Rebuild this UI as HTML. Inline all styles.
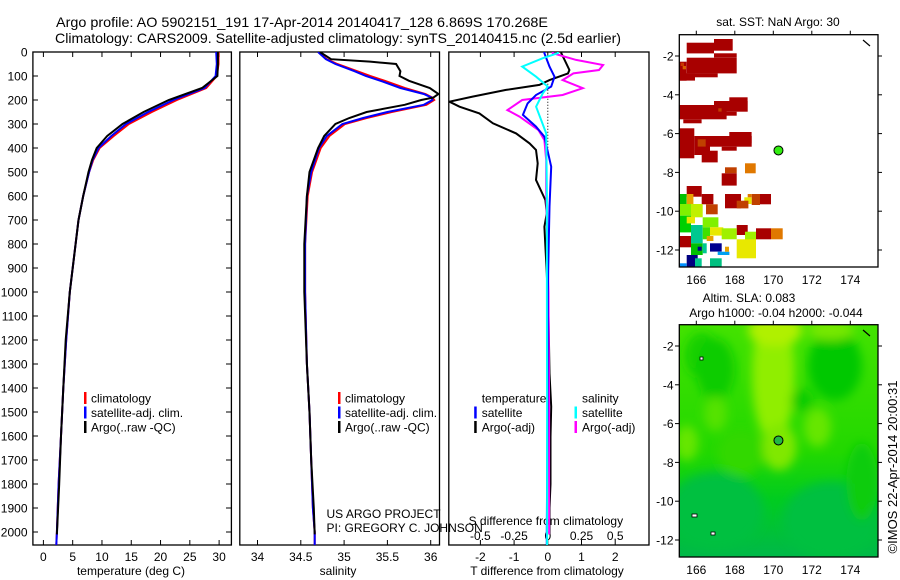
<!DOCTYPE html>
<html><head><meta charset="utf-8"><style>
html,body{margin:0;padding:0;background:#fff;}
svg{display:block;font-family:"Liberation Sans",sans-serif;}
text{fill:#000;}
</style></head><body>
<svg id="fig" width="900" height="580" viewBox="0 0 900 580" xmlns="http://www.w3.org/2000/svg">
<defs>
<clipPath id="c1"><rect x="32.9" y="52" width="198.5" height="493"/></clipPath>
<clipPath id="c2"><rect x="239.8" y="52" width="199.7" height="493"/></clipPath>
<clipPath id="c3"><rect x="448.8" y="52" width="200.2" height="493"/></clipPath>
<clipPath id="cm2"><rect x="679.3" y="324.7" width="198.7" height="232.3"/></clipPath>
<filter id="blur" x="-20%" y="-20%" width="140%" height="140%"><feGaussianBlur stdDeviation="5"/></filter>
</defs>
<text x="56" y="27" font-size="14" textLength="492" lengthAdjust="spacingAndGlyphs">Argo profile: AO 5902151_191 17-Apr-2014 20140417_128 6.869S 170.268E</text>
<text x="55" y="43" font-size="14" textLength="566" lengthAdjust="spacingAndGlyphs">Climatology: CARS2009. Satellite-adjusted climatology: synTS_20140415.nc (2.5d earlier)</text>
<g id="g1"></g>
<g id="g2"></g>
<g id="g3"></g>
<g id="gm1"></g>
<g id="gm2"></g>
</svg>
<script>
// ---- data ----
const depthT = [0,50,100,150,200,250,300,350,400,450,500,600,700,800,1000,1200,1400,1600,1800,2000,2054];
const tempClim = [29.9,29.9,29.6,27.8,22.8,18.5,14.6,12.0,9.6,8.5,7.8,6.8,6.0,5.5,4.5,3.9,3.4,3.0,2.6,2.3,2.2];
const tempSat  = [29.5,29.6,29.4,27.5,22.2,17.9,14.1,11.6,9.4,8.4,7.8,6.8,6.0,5.5,4.5,3.9,3.4,3.0,2.6,2.3,2.2];
const depthArgo = [0,50,100,150,200,250,300,350,400,450,500,600,700,800,1000,1200,1400,1600,1800,2010];
const tempArgo = [29.8,29.8,29.7,27.1,21.4,17.1,13.5,10.9,9.1,8.3,7.7,6.8,6.0,5.5,4.5,3.8,3.4,3.0,2.7,2.3];
const depthS = [0,30,50,80,100,120,150,175,190,200,220,250,275,300,350,400,500,600,800,1000,1300,1500,1700,1900,2000,2054];
const salClim = [34.70,34.80,34.92,35.15,35.30,35.47,35.70,35.94,36.02,36.04,35.95,35.55,35.26,35.01,34.83,34.73,34.63,34.58,34.55,34.55,34.57,34.60,34.62,34.64,34.66,34.66];
const salSat  = [34.70,34.79,34.90,35.12,35.25,35.42,35.65,35.92,36.01,36.02,35.92,35.50,35.22,34.98,34.80,34.71,34.62,34.57,34.55,34.55,34.57,34.60,34.62,34.64,34.66,34.66];
const depthSA = [0,30,40,50,80,100,120,150,175,190,200,220,250,275,300,350,400,500,600,800,1000,1300,1500,1700,1900,2010];
const salArgo = [34.72,34.85,35.30,35.60,35.65,35.64,35.75,35.99,36.09,36.03,35.89,35.70,35.26,35.06,34.90,34.77,34.70,34.60,34.57,34.54,34.54,34.57,34.60,34.62,34.65,34.66];
const depthDT = [0,5,33,75,89,117,137,158,186,207,228,256,297,339,381,408,464,533,617,672,728,811,922,1100,1339,1478,1603,1800,1900,2010];
const dTArgo  = [0.4,0.4,0.5,0.64,0.6,0.05,-0.25,-1.24,-2.23,-2.92,-2.62,-2.03,-1.63,-0.94,-0.54,-0.35,-0.3,-0.35,-0.07,-0.03,-0.1,-0.07,-0.03,0.02,0.05,0.1,0.08,0.08,0.05,0.05];
const depthDTS = [0,5,61,103,144,179,214,262,311,353,478,644,783,1000,1500,2000,2054];
const dTSat   = [-0.1,-0.1,0.05,0.2,0.1,-0.35,-0.6,-0.74,-0.35,-0.1,0.1,0.05,0.03,0,-0.01,-0.03,-0.03];
const depthDS = [0,5,33,54,75,89,117,151,179,200,242,269,325,367,450,575,1000,1500,2010];
const dSArgo  = [0.037,0.037,0.21,0.41,0.38,0.19,0.11,0.26,0.11,-0.19,-0.30,-0.21,-0.07,-0.025,-0.012,-0.012,0.005,0.01,0.01];
const depthDSS = [0,5,26,61,103,144,172,228,283,339,600,1000,1500,2054];
const dSSat   = [0.074,0.074,-0.037,-0.19,-0.087,0,-0.037,-0.087,-0.05,-0.012,-0.007,-0.007,-0.005,-0.005];
const depthTicks = [0,100,200,300,400,500,600,700,800,900,1000,1100,1200,1300,1400,1500,1600,1700,1800,1900,2000];
const tempTicks = [0,5,10,15,20,25,30];
const salTicks = [34,34.5,35,35.5,36];
const dTTicks = [-2,-1,0,1,2];
const dSTicks = [-0.5,-0.25,0,0.25,0.5];
const lonTicks = [166,168,170,172,174];
const latTicks = [-2,-4,-6,-8,-10,-12];
const argoLon = 170.268, argoLat = -6.869;

// ---- scales ----
const NS='http://www.w3.org/2000/svg';
const yD = d => 52 + d*0.24;
const xT = t => 43.4 + t*5.857;
const xS = s => 257.5 + (s-34)*86.6;
const xDT = v => 547.8 + v*33.7;
const xDS = v => 547.8 + v*134.8;
const mX = lon => 696.3 + (lon-166)*19.25;
const mY1 = lat => 56 + (-2-lat)*19.4;
const mY2 = lat => 346 + (-2-lat)*19.4;

function el(tag, attrs, parent){const e=document.createElementNS(NS,tag);for(const k in attrs)e.setAttribute(k,attrs[k]);parent.appendChild(e);return e;}
function txt(parent,x,y,s,size,anchor){const t=el('text',{x:x,y:y,'font-size':size||12,'text-anchor':anchor||'start'},parent);t.textContent=s;return t;}
function line(parent,xs,ys,xf,color,clip){
  const pts=xs.map((v,i)=>xf(v).toFixed(1)+','+yD(ys[i]).toFixed(1)).join(' ');
  return el('polyline',{points:pts,fill:'none',stroke:color,'stroke-width':2,'clip-path':'url(#'+clip+')'},parent);
}
function box(parent,x,y,w,h){return el('rect',{x:x,y:y,width:w,height:h,fill:'none',stroke:'#000','stroke-width':1.3},parent);}
function legendBar(parent,x,y,color){return el('rect',{x:x,y:y-6,width:2.5,height:12,fill:color},parent);}

// ---- panel 1 ----
const g1=document.getElementById('g1');
let fr=box(g1,32.9,52,198.5,493);


depthTicks.forEach(d=>{
  el('line',{x1:32.9,x2:38,y1:yD(d),y2:yD(d),stroke:'#000'},g1);
  el('line',{x1:226,x2:231.4,y1:yD(d),y2:yD(d),stroke:'#000'},g1);
  const t=txt(g1,27.5,yD(d)+4.5,String(d),12,'end');
  
  
});
tempTicks.forEach(v=>{
  el('line',{x1:xT(v),x2:xT(v),y1:545,y2:540,stroke:'#000'},g1);
  el('line',{x1:xT(v),x2:xT(v),y1:52,y2:57,stroke:'#000'},g1);
  const t=txt(g1,xT(v),561,String(v),12,'middle');
  
  
});
let at=txt(g1,131,575,'temperature (deg C)',12,'middle');


let l;
l=line(g1,tempClim,depthT,xT,'#f00','c1');


l=line(g1,tempSat,depthT,xT,'#00f','c1');


l=line(g1,tempArgo,depthArgo,xT,'#000','c1');


function legend3(g,bx,tx,prefix){
  const items=[['climatology','#f00'],['satellite-adj. clim.','#00f'],['Argo(..raw -QC)','#000']];
  items.forEach((it,i)=>{
    const y=398+i*14.5;
    const b=legendBar(g,bx,y,it[1]);
    
    
    const t=txt(g,tx,y+4.5,it[0],12);
    
    
  });
}
legend3(g1,84,91,'temperature');

// ---- panel 2 ----
const g2=document.getElementById('g2');
fr=box(g2,239.8,52,199.7,493);


salTicks.forEach(v=>{
  el('line',{x1:xS(v),x2:xS(v),y1:545,y2:540,stroke:'#000'},g2);
  el('line',{x1:xS(v),x2:xS(v),y1:52,y2:57,stroke:'#000'},g2);
  const t=txt(g2,xS(v),561,String(v),12,'middle');
  
  
});
at=txt(g2,338,575,'salinity',12,'middle');


l=line(g2,salClim,depthS,xS,'#f00','c2');


l=line(g2,salSat,depthS,xS,'#00f','c2');


l=line(g2,salArgo,depthSA,xS,'#000','c2');


legend3(g2,338,345,'salinity');
let c=txt(g2,326.5,518,'US ARGO PROJECT',12);


c=txt(g2,326.5,532,'PI: GREGORY C. JOHNSON',12);



// ---- panel 3 ----
const g3=document.getElementById('g3');
fr=box(g3,448.8,52,200.2,493);


el('line',{x1:xDT(0),x2:xDT(0),y1:yD(120),y2:yD(400),stroke:'#000','stroke-dasharray':'1,2'},g3);
dTTicks.forEach(v=>{
  el('line',{x1:xDT(v),x2:xDT(v),y1:545,y2:540,stroke:'#000'},g3);
  el('line',{x1:xDT(v),x2:xDT(v),y1:52,y2:57,stroke:'#000'},g3);
  const t=txt(g3,xDT(v),561,String(v),12,'middle');
  
  
});
dSTicks.forEach(v=>{
  const t=txt(g3,xDS(v),540,String(v),12,'middle');
  
  
});
at=txt(g3,468.6,525,'S difference from climatology',12);


at=txt(g3,547,575,'T difference from climatology',12,'middle');


l=line(g3,dTArgo,depthDT,xDT,'#000','c3');


l=line(g3,dSArgo,depthDS,xDS,'#f0f','c3');


l=line(g3,dTSat,depthDTS,xDT,'#00f','c3');


l=line(g3,dSSat,depthDSS,xDS,'#0ff','c3');


[[481.7,398,'temperature',null],[481.7,412.5,'satellite','#00f'],[481.7,427,'Argo(-adj)','#000'],
 [582,398,'salinity',null],[582,412.5,'satellite','#0ff'],[582,427,'Argo(-adj)','#f0f']].forEach(it=>{
  if(it[3]){const b=legendBar(g3,it[0]-7.5,it[1],it[3]);
    
    }
  const t=txt(g3,it[0],it[1]+4.5,it[2],12);
  
  
});

// ---- map axes helper ----
function mapAxes(g,top,yf,bottomLabelY){
  lonTicks.forEach(v=>{
    el('line',{x1:mX(v),x2:mX(v),y1:top-4,y2:top,stroke:'#000'},g);
    const t=txt(g,mX(v),bottomLabelY,String(v),12,'middle');
    
    
  });
  latTicks.forEach(v=>{
    el('line',{x1:675,x2:679.3,y1:yf(v),y2:yf(v),stroke:'#000'},g);
    el('line',{x1:878,x2:882,y1:yf(v),y2:yf(v),stroke:'#000'},g);
    const t=txt(g,673.5,yf(v)+4.5,String(v),12,'end');
    
    
  });
}

// ---- SST map ----
const gm1=document.getElementById('gm1');
let mt=txt(gm1,778,26,'sat. SST: NaN Argo: 30',12,'middle');


const sstBlocks=[
 [80,128,82,32,'#a80000'],[162,117,56,35,'#a80000'],[80,173,150,47,'#a80000'],[162,160,68,13,'#a80000'],
 [58,185,22,57,'#a80000'],[80,220,93,12,'#a80000'],[58,220,47,22,'#a80000'],[62,188,10,10,'#c83800'],[68,198,10,10,'#d86000'],
 [58,315,142,43,'#a80000'],[162,303,101,32,'#a80000'],[208,292,55,11,'#a80000'],[70,358,55,12,'#a80000'],[185,335,45,12,'#a80000'],[175,325,10,10,'#c04000'],
 [58,385,45,90,'#a80000'],[103,408,47,57,'#a80000'],[150,408,125,32,'#a80000'],[208,396,67,34,'#a80000'],[185,440,45,12,'#a80000'],[125,452,48,35,'#a80000'],[113,418,24,22,'#c04000'],
 [255,490,32,30,'#e07800'],[195,502,35,18,'#c04000'],[185,520,45,37,'#a80000'],
 [80,558,45,32,'#a80000'],[125,582,35,31,'#a80000'],[195,582,48,43,'#a80000'],[300,582,33,31,'#a80000'],[275,582,25,33,'#c04000'],[253,592,22,20,'#e8e800'],[263,582,12,10,'#e07800'],[230,602,35,23,'#c04000'],
 [138,613,35,30,'#c04000'],[230,675,33,30,'#a80000'],[288,685,45,33,'#a80000'],[333,685,35,33,'#e07800'],[58,708,35,34,'#a80000'],
 [58,582,22,30,'#00c000'],[80,582,20,30,'#e8a000'],[58,612,35,35,'#80f000'],[93,612,35,40,'#c0f000'],[58,647,35,50,'#00d000'],[80,650,25,20,'#e8e800'],
 [93,675,35,55,'#00c890'],[128,652,47,30,'#80f000'],[150,682,40,25,'#e8e800'],[128,682,22,36,'#40e000'],[185,685,45,33,'#a0f000'],[255,695,33,35,'#a0f000'],
 [230,718,58,57,'#e8e800'],[93,730,35,35,'#00c000'],[113,740,12,12,'#000090'],[150,730,35,25,'#000090'],[173,755,35,10,'#00a0f0'],[195,740,12,15,'#e8a000'],[128,730,12,30,'#00c890'],
 [80,765,33,35,'#000080'],[150,775,35,25,'#00c080'],[58,790,22,10,'#0090ff'],[105,775,20,25,'#00c890'],[140,708,20,15,'#e8a000']
];
sstBlocks.forEach(b=>{
  const r=el('rect',{x:(660+b[0]/3).toFixed(1),y:(b[1]/3).toFixed(1),width:(b[2]/3).toFixed(1),height:(b[3]/3).toFixed(1),fill:b[4]},gm1);
  
  
});
fr=box(gm1,679.3,34.7,198.7,232.3);


el('line',{x1:863,y1:40,x2:870,y2:46,stroke:'#000','stroke-width':1.2},gm1);
let dot=el('circle',{cx:mX(argoLon),cy:mY1(argoLat),r:4.5,fill:'#33ee11',stroke:'#000','stroke-width':1},gm1);


mapAxes(gm1,34.7,mY1,284);

// ---- SLA map ----
const gm2=document.getElementById('gm2');
mt=txt(gm2,749,302,'Altim. SLA: 0.083',12,'middle');


mt=txt(gm2,776,317,'Argo h1000: -0.04 h2000: -0.044',12,'middle');


const cg=el('g',{'clip-path':'url(#cm2)'},gm2);
const grad=el('linearGradient',{id:'slag',x1:0,y1:0,x2:0,y2:1},document.querySelector('defs'));
el('stop',{offset:'0','stop-color':'#44e200'},grad);
el('stop',{offset:'0.55','stop-color':'#22d800'},grad);
el('stop',{offset:'0.75','stop-color':'#00cc20'},grad);
el('stop',{offset:'1','stop-color':'#00b84a'},grad);
el('rect',{x:679,y:324,width:200,height:234,fill:'url(#slag)'},cg);
const fg=el('g',{filter:'url(#blur)'},cg);
const slaBlobs=[
 [170,-3.5,1.1,3.5,'#90ee00'],[170.1,-1.2,1.4,0.8,'#b0f000'],[170.3,-7.2,0.9,1.2,'#80e800'],
 [166.3,-2.5,0.9,1.2,'#14d000'],[167,-3.2,1,1.6,'#10cc00'],[173.2,-3,1.4,1.8,'#00c800'],
 [171.5,-4.8,0.6,0.6,'#10cc00'],[172.3,-6.2,0.7,1,'#66e600'],[167,-5.5,0.6,0.9,'#55e200'],
 [165.5,-7,0.6,0.9,'#66e600'],[173,-1.2,1.2,0.5,'#77e800'],[168.3,-7.5,1.2,1.2,'#30d800'],
 [167,-10.5,2.5,2,'#00c040'],[173,-11,2.5,2,'#00c040'],[174.6,-9,0.8,2,'#10cc10']
];
slaBlobs.forEach(b=>{
  const e=el('ellipse',{cx:mX(b[0]),cy:mY2(b[1]),rx:b[2]*19.25,ry:b[3]*19.4,fill:b[4]},fg);
  
  
});
[[700,357,3,3],[692,514,5,3],[711,532,4,3]].forEach(p=>el('rect',{x:p[0],y:p[1],width:p[2],height:p[3],fill:'#fff',stroke:'#000','stroke-width':0.8},gm2));
el('line',{x1:863,y1:330,x2:870,y2:336,stroke:'#000','stroke-width':1.2},gm2);
fr=box(gm2,679.3,324.7,198.7,232.3);


dot=el('circle',{cx:mX(argoLon),cy:mY2(argoLat),r:4.5,fill:'#22b844',stroke:'#000','stroke-width':1},gm2);


mapAxes(gm2,324.7,mY2,574);
const rt=txt(gm2,0,0,'\u00A9IMOS 22-Apr-2014 20:00:31',13,'middle');
rt.setAttribute('transform','translate(897,467) rotate(-90)');


</script>
</body></html>
